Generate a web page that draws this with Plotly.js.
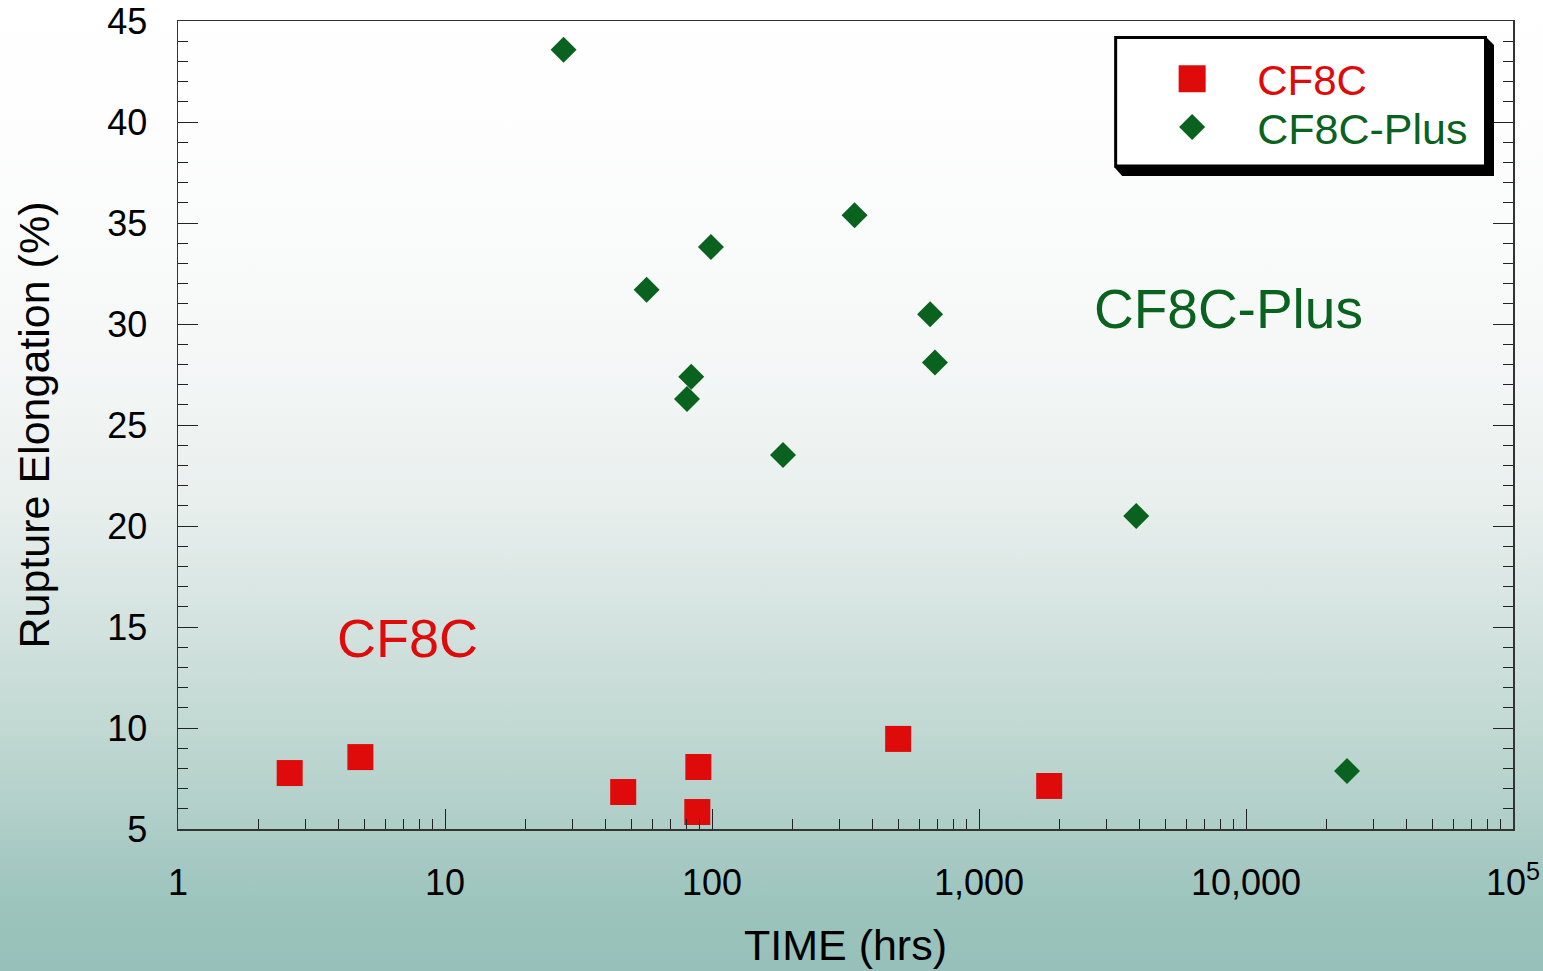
<!DOCTYPE html>
<html>
<head>
<meta charset="utf-8">
<script src="https://cdn.plot.ly/plotly-3.0.1.min.js"></script>
<style>
  html, body { margin: 0; padding: 0; }
  #chart {
    width: 1543px; height: 971px;
    background: linear-gradient(to bottom, #ffffff 0%, #fdfdfd 15%, #f6f8f8 35%, #e8efed 52%, #cfe0dc 67%, #b5d1cb 82%, #9cc4bd 93%, #96c0b9 100%);
  }
</style>
</head>
<body>
<div id="chart"></div>
<script>
// ---- data ----
const cf8cTime = [2.62, 4.82, 46.5, 88.9, 88.1, 498, 1832];
const cf8cElong = [7.77, 8.56, 6.83, 8.07, 5.84, 9.46, 7.13];

const plusTime = [27.8, 342, 99.1, 56.9, 656, 684, 83.6, 80.6, 184.5, 3880, 23900];
const plusElong = [43.58, 35.38, 33.81, 31.70, 30.48, 28.10, 27.39, 26.29, 23.51, 20.50, 7.87];

const xTickVals = [1, 10, 100, 1000, 10000, 100000];
const xTickText = ['1', '10', '100', '1,000', '10,000', '10<sup>5</sup>'];
const yTickVals = [5, 10, 15, 20, 25, 30, 35, 40, 45];

const seriesNames = ['CF8C', 'CF8C-Plus'];
const seriesColors = ['#df0a0a', '#0a621f'];

// ---- layout helpers (pixel -> paper) ----
const L = 177.5, R = 1513, T = 21, B = 829;
const px = x => (x - L) / (R - L);
const py = y => (B - y) / (B - T);

const FONT = 'Liberation Sans, Arial, sans-serif';

const traces = [
  {
    x: cf8cTime, y: cf8cElong, name: seriesNames[0], type: 'scatter', mode: 'markers',
    marker: { symbol: 'square', size: 26, color: seriesColors[0], line: { width: 0 } },
    legend: 'legend'
  },
  {
    x: plusTime, y: plusElong, name: seriesNames[1], type: 'scatter', mode: 'markers',
    marker: { symbol: 'diamond', size: 20, color: seriesColors[1], line: { width: 0 } },
    legend: 'legend2'
  }
];

const legendCommon = {
  bgcolor: 'rgba(0,0,0,0)', borderwidth: 0, itemwidth: 120,
  xanchor: 'left', yanchor: 'middle', x: px(1127)
};

const layout = {
  width: 1543, height: 971,
  margin: { l: L, r: 1543 - R, t: T, b: 971 - B, pad: 0 },
  paper_bgcolor: 'rgba(0,0,0,0)',
  plot_bgcolor: 'rgba(0,0,0,0)',
  font: { family: FONT, color: '#000' },
  showlegend: true,
  legend: Object.assign({}, legendCommon, { y: py(79), font: { family: FONT, size: 42, color: seriesColors[0] } }),
  legend2: Object.assign({}, legendCommon, { y: py(127), font: { family: FONT, size: 43, color: seriesColors[1] } }),
  xaxis: {
    type: 'log', range: [0, 5], autorange: false,
    tickmode: 'array', tickvals: xTickVals, ticktext: xTickText,
    ticks: 'inside', ticklen: 20, tickwidth: 1, tickcolor: '#222',
    minor: { ticks: 'inside', ticklen: 10, tickwidth: 1, tickcolor: '#222', dtick: 'D1', showgrid: false },
    showline: true, linecolor: '#333', linewidth: 1.5, mirror: true,
    showgrid: false, zeroline: false,
    tickfont: { family: FONT, size: 36, color: '#000' },
    ticklabelstandoff: 21,
    title: { text: 'TIME (hrs)', font: { family: FONT, size: 43, color: '#000' }, standoff: 28 },
    automargin: false
  },
  yaxis: {
    range: [5, 45], autorange: false,
    tickmode: 'array', tickvals: yTickVals,
    ticks: 'inside', ticklen: 20, tickwidth: 1, tickcolor: '#222',
    minor: { ticks: 'inside', ticklen: 10, tickwidth: 1, tickcolor: '#222', dtick: 1, showgrid: false },
    showline: true, linecolor: '#333', linewidth: 1.5, mirror: 'ticks',
    showgrid: false, zeroline: false,
    tickfont: { family: FONT, size: 36, color: '#000' },
    ticklabelstandoff: 22,
    title: { text: 'Rupture Elongation (%)', font: { family: FONT, size: 43, color: '#000' }, standoff: 44 },
    automargin: false
  },
  shapes: [
    // legend shadow
    {
      type: 'path', xref: 'paper', yref: 'paper', layer: 'above',
      path: `M ${px(1486)},${py(37)} L ${px(1494)},${py(45)} L ${px(1494)},${py(176)} L ${px(1122)},${py(176)} L ${px(1114)},${py(167)} Z`,
      fillcolor: '#000', line: { width: 0 }
    },
    // legend box
    {
      type: 'rect', xref: 'paper', yref: 'paper', layer: 'above',
      x0: px(1115.5), x1: px(1485.5), y0: py(37.5), y1: py(166),
      fillcolor: '#ffffff', line: { color: '#000', width: 3 }
    }
  ],
  annotations: [
    {
      xref: 'paper', yref: 'paper', x: px(407), y: py(638), xanchor: 'center', yanchor: 'middle',
      text: 'CF8C', showarrow: false, font: { family: FONT, size: 54, color: seriesColors[0] }
    },
    {
      xref: 'paper', yref: 'paper', x: px(1228), y: py(309), xanchor: 'center', yanchor: 'middle',
      text: 'CF8C-Plus', showarrow: false, font: { family: FONT, size: 55, color: seriesColors[1] }
    }
  ]
};

// legend symbols are capped at 16px by Plotly; enlarge them to match the plotted markers
const legendSymbolWidth = [27, 26]; // px, per series (square, diamond)

function enlargeLegendSymbols(gd) {
  gd.querySelectorAll('.legendpoints path.scatterpts').forEach(p => {
    if (!p.dataset.baseTransform) p.dataset.baseTransform = p.getAttribute('transform') || '';
    const fill = (p.style.fill || '').replace(/\s/g, '');
    const idx = fill.indexOf('223,10,10') >= 0 ? 0 : 1;
    p.setAttribute('transform', p.dataset.baseTransform);
    const w = p.getBBox().width;
    if (w > 0) {
      const s = legendSymbolWidth[idx] / w;
      p.setAttribute('transform', p.dataset.baseTransform + ' scale(' + s + ')');
    }
  });
}

Plotly.newPlot('chart', traces, layout, { displayModeBar: false, staticPlot: true }).then(gd => {
  enlargeLegendSymbols(gd);
  setTimeout(() => enlargeLegendSymbols(gd), 50);
});
</script>
</body>
</html>
